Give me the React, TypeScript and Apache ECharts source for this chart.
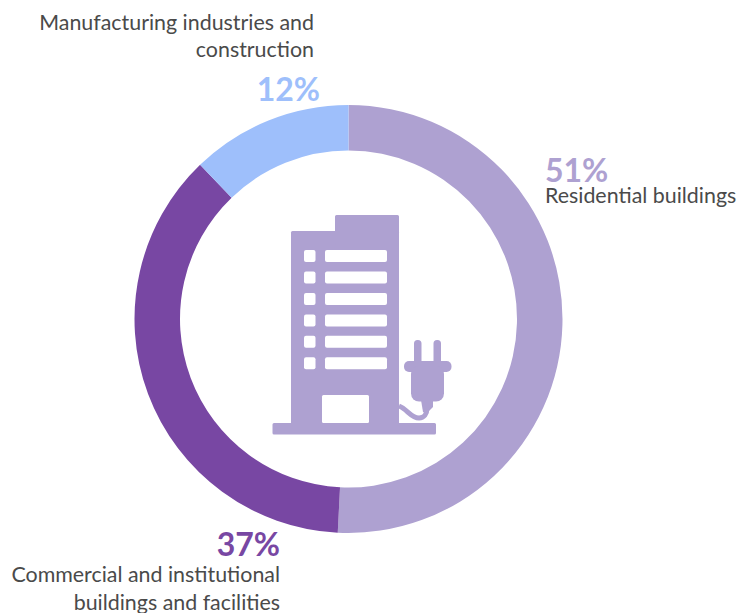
import React, { useEffect, useRef } from "react";
import * as echarts from "echarts";

const categories = ["Residential buildings", "Commercial and institutional\nbuildings and facilities", "Manufacturing industries and\nconstruction"];
const values = [50.8, 37, 12.2];
const percentLabels = ["51%", "37%", "12%"];
const colors = ["#AEA1D1", "#7847A3", "#9EBFFB"];

const ICON = "#AEA1D1";
const rect = (x: number, y: number, width: number, height: number, fill: string, r = 1.5) => ({
  type: "rect", shape: { x, y, width, height, r }, style: { fill }, silent: true,
});

const windowRows = [250, 271.5, 293, 314.4, 335.8, 357.2];

export default function App() {
  const ref = useRef<HTMLDivElement>(null);
  useEffect(() => {
    const chart = echarts.init(ref.current!, undefined, { renderer: "svg" });
    const name = (lineHeight: number, align: string, padding = [0, 0, 0, 0]) => ({
      fontFamily: "Lato", fontSize: 21.4, color: "#4a4a4a", lineHeight, align, padding,
    });
    const pct = (c: string, lineHeight: number, align: string) => ({
      fontFamily: "Lato", fontSize: 32, fontWeight: 700, color: c, lineHeight, align,
    });
    const positions = [
      { x: 545, y: 155, align: "left" },
      { x: 280, y: 526, align: "right" },
      { x: 320, y: 8, align: "right" },
    ];
    const richs = [
      { p: pct(colors[0], 28, "left"), n: name(24, "left") },
      { p: pct(colors[1], 34, "right"), n: name(28, "right") },
      { p: pct(colors[2], 53, "right"), n: name(27, "right", [0, 6, 0, 0]) },
    ];
    chart.setOption({
      animation: false,
      backgroundColor: "#ffffff",
      series: [{
        type: "pie",
        center: [348.5, 319],
        radius: [168.5, 214],
        startAngle: 90,
        clockwise: true,
        silent: true,
        itemStyle: { borderWidth: 0 },
        data: values.map((v, i) => ({
          value: v,
          name: categories[i],
          itemStyle: { color: colors[i] },
          label: {
            show: true,
            position: "outside",
            width: 340,
            overflow: "none",
            align: positions[i].align,
            verticalAlign: "top",
            formatter: () => {
              const names = categories[i].split("\n").map((s) => `{n|${s}}`).join("\n");
              return i === 2 ? `${names}\n{p|${percentLabels[i]}}` : `{p|${percentLabels[i]}}\n${names}`;
            },
            rich: richs[i],
          },
          labelLine: { show: false },
        })),
        labelLayout: (p: any) => ({
          x: positions[p.dataIndex].x,
          y: positions[p.dataIndex].y,
          align: positions[p.dataIndex].align,
          verticalAlign: "top",
        }),
      }],
      graphic: [{
        type: "group",
        silent: true,
        children: [
          rect(291, 231, 108, 195, ICON),
          rect(335, 215, 64, 30, ICON),
          rect(272.5, 423, 163.5, 11.5, ICON),
          rect(322, 395, 47, 28, "#ffffff"),
          ...windowRows.flatMap((y) => [
            rect(304, y, 11.5, 12, "#ffffff", 2),
            rect(325, y, 62, 12, "#ffffff", 2),
          ]),
          rect(414, 340, 7.5, 26, ICON, 3.5),
          rect(433.5, 340, 7.5, 26, ICON, 3.5),
          rect(404, 361, 47.5, 11, ICON, 5),
          rect(411, 366, 33, 35.5, ICON, 8),
          { type: "polygon", shape: { points: [[421, 400], [433, 400], [433, 407], [428, 412], [423, 412]] }, style: { fill: ICON }, silent: true },
          {
            type: "bezierCurve",
            shape: { x1: 399, y1: 406, cpx1: 407, cpy1: 409, cpx2: 411, cpy2: 418, x2: 419, y2: 418 },
            style: { stroke: ICON, lineWidth: 5, fill: "none" },
            silent: true,
          },
          {
            type: "bezierCurve",
            shape: { x1: 419, y1: 418, cpx1: 424, cpy1: 418, cpx2: 427, cpy2: 414, x2: 427, y2: 408 },
            style: { stroke: ICON, lineWidth: 5, fill: "none" },
            silent: true,
          },
        ],
      }],
    });
    return () => chart.dispose();
  }, []);
  return <div ref={ref} style={{ position: "absolute", left: 0, top: 0, width: 739, height: 613, overflow: "hidden" }} />;
}
